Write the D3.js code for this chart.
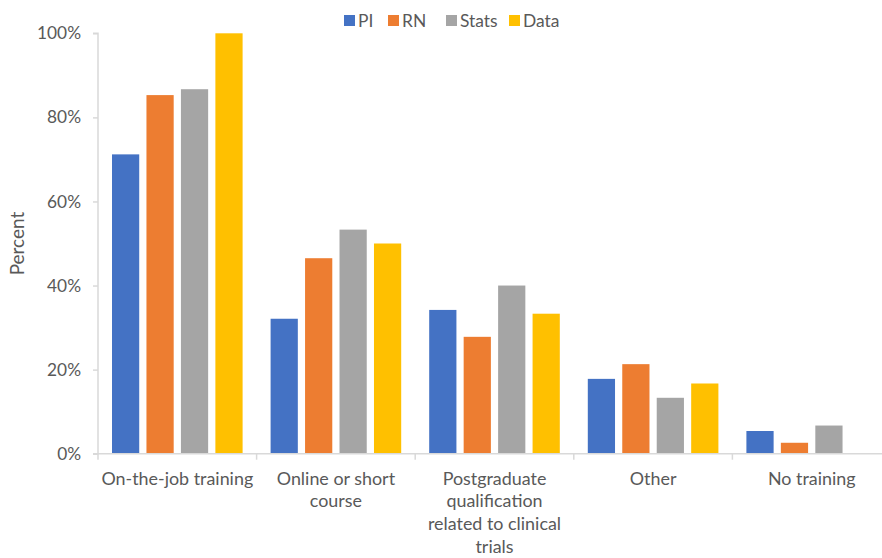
<!DOCTYPE html>
<html><head><meta charset="utf-8">
<script src="https://cdn.jsdelivr.net/npm/d3@7"></script>
<style>body{margin:0;background:#fff;} text{font-family:Lato,"Open Sans",sans-serif;}</style>
</head><body><svg id="c" width="882" height="558"></svg>
<script>
const categories = ["On-the-job training","Online or short course","Postgraduate qualification related to clinical trials","Other","No training"];
const categoryLines = [["On-the-job training"],["Online or short","course"],["Postgraduate","qualification","related to clinical","trials"],["Other"],["No training"]];
const seriesNames = ["PI","RN","Stats","Data"];
const PI = [71.2, 32.1, 34.2, 17.8, 5.4];
const RN = [85.3, 46.5, 27.8, 21.3, 2.6];
const Stats = [86.7, 53.3, 40.0, 13.3, 6.7];
const Data = [100, 50.0, 33.3, 16.7, 0];
const colors = ["#4472C4","#ED7D31","#A5A5A5","#FFC000"];
const yTicks = [0,20,40,60,80,100];

(function(){
const values = [PI,RN,Stats,Data];
const svg = d3.select("#c");
const pLeft = 98, pRight = 891, pTop = 33.3, pBottom = 453.7;
const x0 = d3.scaleBand().domain(categories).range([pLeft,pRight]).padding(0);
const x1 = d3.scaleBand().domain(seriesNames).range([14, x0.bandwidth()-14]).paddingInner(0.21);
const y = d3.scaleLinear().domain([0,100]).range([pBottom,pTop]);
const txt = "#595959", axc = "#D9D9D9";

categories.forEach((c,ci)=>{
  seriesNames.forEach((s,si)=>{
    const v = values[si][ci];
    if (v<=0) return;
    svg.append("rect").attr("x", x0(c)+x1(s)).attr("y", y(v))
      .attr("width", x1.bandwidth()).attr("height", y(0)-y(v))
      .attr("fill", colors[si]);
  });
});

const ya = d3.axisLeft(y).tickValues(yTicks).tickFormat(d=>d+"%").tickSize(5).tickPadding(12);
const yg = svg.append("g").attr("transform",`translate(${pLeft},0)`).call(ya);
yg.select(".domain").attr("stroke",axc).attr("stroke-width",1.5).attr("d",`M-5,${pTop}H0V${pBottom}H-5`);
yg.selectAll(".tick line").attr("stroke",axc).attr("stroke-width",1.5);
yg.selectAll(".tick text").attr("fill",txt).style("font-size","17.3px").style("font-family","Lato");

const xg = svg.append("g").attr("transform",`translate(0,${pBottom})`);
xg.append("line").attr("x1",pLeft).attr("x2",pRight).attr("stroke",axc).attr("stroke-width",1.5);
const bounds = categories.map(c=>x0(c)).concat([pRight]);
xg.selectAll("line.tk").data(bounds).join("line").attr("class","tk")
  .attr("x1",d=>d).attr("x2",d=>d).attr("y1",0).attr("y2",6).attr("stroke",axc).attr("stroke-width",1.5);
categories.forEach((c,ci)=>{
  const cx = x0(c)+x0.bandwidth()/2;
  const t = xg.append("text").attr("x", cx).attr("y", 31)
    .attr("text-anchor","middle").attr("fill",txt).style("font-size","17.9px");
  t.selectAll("tspan").data(categoryLines[ci]).join("tspan")
    .attr("x", cx).attr("dy",(d,i)=>i===0?0:22.8).text(d=>d);
});

svg.append("text").attr("transform",`translate(24,${(pTop+pBottom)/2}) rotate(-90)`)
  .attr("text-anchor","middle").attr("fill",txt).style("font-size","19px").text("Percent");

const legX = [344, 388, 446, 509];
seriesNames.forEach((s,i)=>{
  const g = svg.append("g").attr("transform",`translate(${legX[i]},15)`);
  g.append("rect").attr("width",11).attr("height",11).attr("fill",colors[i]);
  g.append("text").attr("x",14).attr("y",12).attr("fill",txt).style("font-size","17.4px").text(s);
});
})();
</script></body></html>
